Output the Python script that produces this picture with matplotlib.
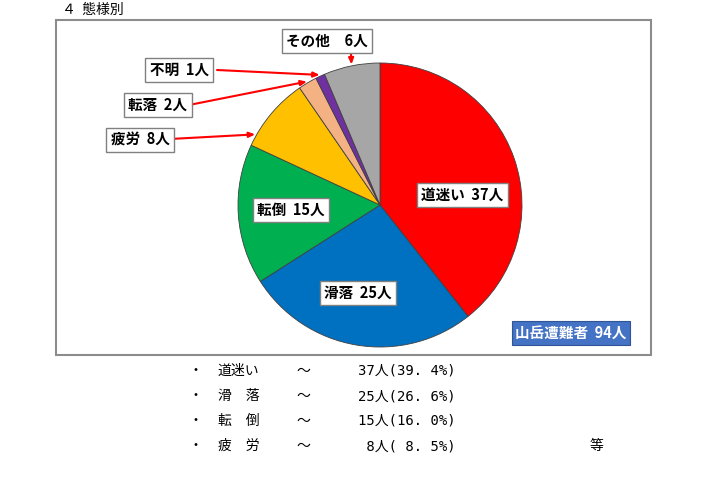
import matplotlib.pyplot as plt
from matplotlib.patches import Rectangle
import numpy as np

plt.rcParams['font.family'] = ['Noto Sans CJK JP', 'DejaVu Sans']

W, H = 720, 480

# data
labels = ["道迷い", "滑落", "転倒", "疲労", "転落", "不明", "その他"]
counts = [37, 25, 15, 8, 2, 1, 6]
colors = ["#FF0000", "#0070C0", "#00B050", "#FFC000", "#F4B183", "#7030A0", "#A6A6A6"]
total_label = "山岳遭難者  94人"

summary_names = ["道迷い", "滑　落", "転　倒", "疲　労"]
summary_vals = ["37人(39. 4%)", "25人(26. 6%)", "15人(16. 0%)", " 8人( 8. 5%)"]


def px(x, y):
    # image pixels -> figure fraction
    return x / W, 1 - y / H


fig = plt.figure(figsize=(W / 100, H / 100), dpi=100)

# outer frame
fig.patches.append(Rectangle(px(56, 355), (651 - 56) / W, (355 - 20) / H,
                             transform=fig.transFigure, fill=False,
                             edgecolor="#8c8c8c", linewidth=1.5))

fig.text(*px(62, 10), "４  態様別", fontsize=10, va="center", ha="left")

cx, cy, r = 380, 205, 142
ax = fig.add_axes([(cx - r) / W, (H - cy - r) / H, 2 * r / W, 2 * r / H])
wedges, _ = ax.pie(counts, colors=colors, startangle=90, counterclock=False,
                   wedgeprops=dict(edgecolor="#404040", linewidth=0.6))
ax.set_xlim(-1, 1)
ax.set_ylim(-1, 1)
ax.set_aspect("equal")
ax.axis("off")

box = dict(boxstyle="square,pad=0.3", facecolor="white", edgecolor="#808080", linewidth=1)

# labels inside big wedges
inside = {0: (462, 195), 1: (358, 293), 2: (291, 210)}
for i, (x, y) in inside.items():
    fig.text(*px(x, y), f"{labels[i]}  {counts[i]}人", fontsize=10.5, fontweight="bold",
             ha="center", va="center", bbox=box)

# labels with arrows for small wedges: (text pos, arrow start, fraction along wedge)
outside = {
    6: ((327, 41), (351, 54), 0.5),
    5: ((179, 70), (217, 70), 0.5),
    4: ((158, 105), (189, 105), 0.5),
    3: ((140, 140), (170, 139), 0.85),
}
for i, (tpos, start, frac) in outside.items():
    w = wedges[i]
    th = np.deg2rad(w.theta1 + frac * (w.theta2 - w.theta1))
    sep = "　" if i == 6 else "  "
    fig.text(*px(*tpos), f"{labels[i]}{sep}{counts[i]}人",
             fontsize=10.5, fontweight="bold", ha="center", va="center", bbox=box)
    ax.annotate("", xy=(np.cos(th) * 1.01, np.sin(th) * 1.01), xycoords="data",
                xytext=px(*start), textcoords="figure fraction",
                arrowprops=dict(arrowstyle="-|>,head_length=0.35,head_width=0.15",
                                color="#FF0000", linewidth=1.5, shrinkA=0, shrinkB=0))

fig.text(*px(571, 333), total_label, fontsize=10.5, fontweight="bold", color="white",
         ha="center", va="center",
         bbox=dict(boxstyle="square,pad=0.25", facecolor="#4472C4", edgecolor="#2F5597", linewidth=0.8))

# summary lines below
mono = ['DejaVu Sans Mono', 'Noto Sans CJK JP']
for k, (nm, v) in enumerate(zip(summary_names, summary_vals)):
    y = 371 + 25 * k
    fig.text(*px(195, y), "・", fontsize=10, ha="center", va="center")
    fig.text(*px(218, y), nm, fontsize=10, ha="left", va="center")
    fig.text(*px(303, y), "～", fontsize=10, ha="center", va="center")
    fig.text(*px(456, y), v, fontsize=10, ha="right", va="center", family=mono)
fig.text(*px(597, 446), "等", fontsize=10, ha="center", va="center")

fig.savefig("out.png", dpi=100)
